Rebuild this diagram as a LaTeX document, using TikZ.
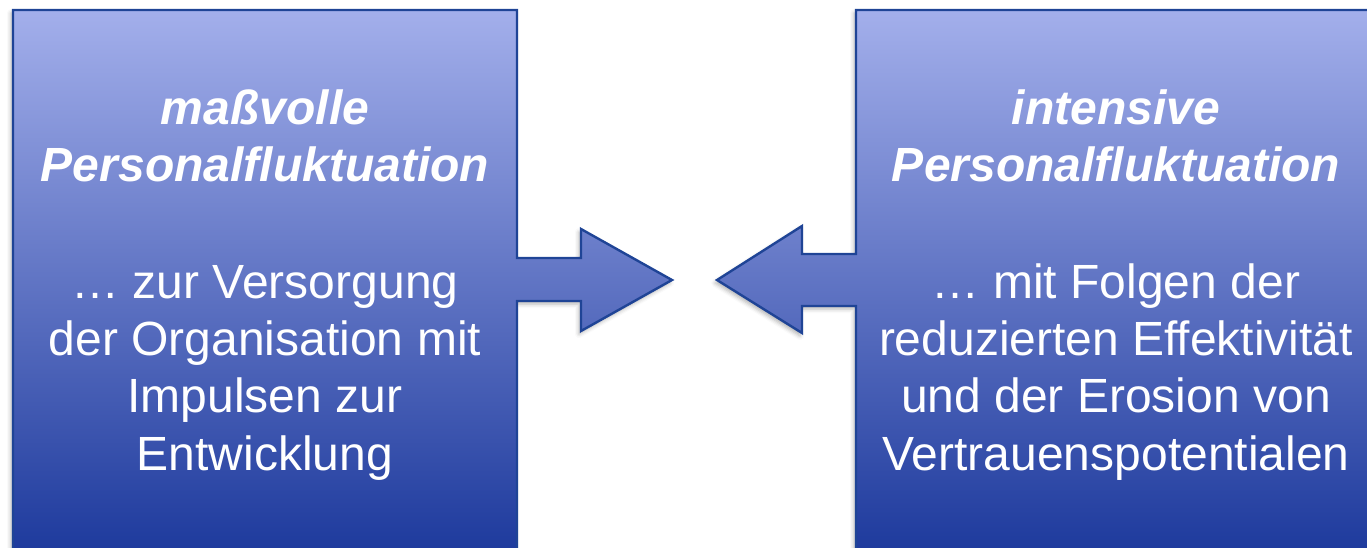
\documentclass[tikz,border=0pt]{standalone}
\usepackage{fontspec}
\setmainfont{Liberation Sans}
\usepackage{tikz}
\usetikzlibrary{shadows.blur,positioning}
\definecolor{boxtop}{HTML}{A3AFEB}
\definecolor{boxmid}{HTML}{7886CB}
\definecolor{boxbot}{HTML}{19369A}
\definecolor{boxline}{HTML}{1F4496}

\begin{document}
\begin{tikzpicture}[x=1pt, y=-1pt,
  panel/.style={draw=boxline, line width=2.4pt, line join=miter,
    top color=boxtop, middle color=boxmid, bottom color=boxbot,
    blur shadow={shadow xshift=-2pt, shadow yshift=-3pt, shadow blur radius=4pt, shadow opacity=30}},
  head/.style={text=white, align=center, inner sep=0pt, anchor=base,
    font=\fontsize{48}{56.5}\selectfont\bfseries\itshape},
  body/.style={text=white, align=center, inner sep=0pt, anchor=base,
    font=\fontsize{48}{57.3}\selectfont}]
  \useasboundingbox (0,0) rectangle (1367,547);
  \clip (0,0) rectangle (1367,547);
  \path[panel] (13,10) -- (517,10) -- (517,258) -- (581,258) -- (581,229) -- (672,280)
    -- (581,331) -- (581,301) -- (517,301) -- (517,570) -- (13,570) -- cycle;
  \path[panel] (856,10) -- (1384,10) -- (1384,570) -- (856,570) -- (856,306) -- (802,306)
    -- (802,333) -- (717,280) -- (802,226) -- (802,254) -- (856,254) -- cycle;
  \node[head] (leftHead) at (265,181) {maßvolle\\Personalfluktuation};
  \node[body] (leftBody) at (265,470) {… zur Versorgung\\der Organisation mit\\Impulsen zur\\Entwicklung};
  \node[head] (rightHead) at (1116,181) {intensive\\Personalfluktuation};
  \node[body] (rightBody) at (1116,470) {… mit Folgen der\\reduzierten Effektivität\\und der Erosion von\\Vertrauenspotentialen};
\end{tikzpicture}
\end{document}
